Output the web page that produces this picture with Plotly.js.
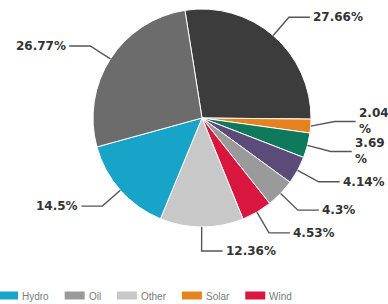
<!DOCTYPE html>
<html><head><meta charset="utf-8">
<script src="https://cdn.plot.ly/plotly-3.0.1.min.js"></script>
<style>html,body{margin:0;padding:0;background:#fff;}#chart{width:388px;height:304px;}</style>
</head><body><div id="chart"></div>
<script>
// ---- data ----
const categories = ['Coal','Solar','Biomass','Nuclear','Oil','Wind','Other','Hydro','Gas'];
const values = [27.66, 2.04, 3.69, 4.14, 4.3, 4.53, 12.36, 14.5, 26.77];
const valueLabels = ['27.66%','2.04%','3.69%','4.14%','4.3%','4.53%','12.36%','14.5%','26.77%'];
const colors = ['#3c3c3c','#e8821e','#0e7a5b','#5a4b78','#9a9a9a','#d8163e','#c8c8c8','#18a3c8','#6c6c6c'];
const legendNames = ['Hydro','Oil','Other','Solar','Wind'];

// ---- layout constants ----
const W = 388, H = 304, CX = 202, CY = 118, R = 109, ROT = -9;
const RADIAL = 24, HORIZ = 21, TGAP = 2;
const LABEL_FONT = 'DejaVu Sans', LABEL_SIZE = 12;
const LEG_FONT = 'Liberation Sans', LEG_SIZE = 10;

const cv = document.createElement('canvas').getContext('2d');
function textW(t, font) { cv.font = font; return cv.measureText(t).width; }
const px = x => x / W, py = y => 1 - y / H;

const total = values.reduce((a, b) => a + b, 0);
let ang = ROT;
const labs = values.map((v, i) => {
  const span = v / total * 360, mid = ang + span / 2; ang += span;
  const a = mid * Math.PI / 180, dx = Math.sin(a), dy = -Math.cos(a);
  const side = dx >= -0.01 ? 1 : -1;
  const o = {i, side,
    ex: CX + R * dx, ey: CY + R * dy,
    bx: CX + (R + RADIAL) * dx, by: CY + (R + RADIAL) * dy};
  o.hx = o.bx + side * HORIZ;
  o.tx = o.hx + side * TGAP;
  const w = textW(valueLabels[i], '700 ' + LABEL_SIZE + 'px "' + LABEL_FONT + '"');
  o.wrap = side > 0 ? (o.tx + w > W - 1) : (o.tx - w < 1);
  o.h = o.wrap ? 30 : 14;
  return o;
});
// simple vertical collision avoidance per side
[1, -1].forEach(s => {
  const arr = labs.filter(l => l.side === s).sort((a, b) => b.by - a.by);
  for (let k = 1; k < arr.length; k++) {
    const lower = arr[k - 1], upper = arr[k];
    const need = (lower.h + upper.h) / 2;
    if (lower.by - upper.by < need) upper.by = lower.by - need;
  }
});

const shapes = [], annotations = [];
labs.forEach(l => {
  shapes.push({type: 'path', xref: 'paper', yref: 'paper',
    path: `M${px(l.ex)},${py(l.ey)} L${px(l.bx)},${py(l.by)} L${px(l.hx)},${py(l.by)}`,
    line: {color: '#555555', width: 1.4}});
  const t = valueLabels[l.i];
  const txt = l.wrap ? t.replace('%', '<br>%') : t;
  annotations.push({xref: 'paper', yref: 'paper', x: px(l.tx), y: py(l.by),
    xanchor: l.side > 0 ? 'left' : 'right', yanchor: 'middle', align: 'left',
    showarrow: false, borderpad: 0, text: '<b>' + txt + '</b>',
    font: {family: LABEL_FONT, size: LABEL_SIZE, color: '#333333'}});
});

// custom legend row
let lx = -2; const ly = 295.5, SW = 20, SH = 8;
legendNames.forEach(n => {
  const c = colors[categories.indexOf(n)];
  shapes.push({type: 'rect', xref: 'paper', yref: 'paper',
    x0: px(lx), x1: px(lx + SW), y0: py(ly + SH / 2), y1: py(ly - SH / 2),
    fillcolor: c, line: {width: 0}});
  const tx = lx + SW + 3;
  annotations.push({xref: 'paper', yref: 'paper', x: px(tx), y: py(ly + 0.5),
    xanchor: 'left', yanchor: 'middle', showarrow: false, borderpad: 0, text: n,
    font: {family: LEG_FONT, size: LEG_SIZE, color: '#7a7a7a'}});
  lx = tx + textW(n, LEG_SIZE + 'px "' + LEG_FONT + '"') + 17;
});

const trace = {
  type: 'pie', labels: categories, values: values, sort: false,
  direction: 'clockwise', rotation: ROT, textinfo: 'none', hoverinfo: 'skip',
  showlegend: false,
  marker: {colors: colors, line: {color: '#ffffff', width: 1}},
  domain: {x: [px(CX - R), px(CX + R)], y: [py(CY + R), py(CY - R)]}
};

Plotly.newPlot('chart', [trace], {
  width: W, height: H, margin: {l: 0, r: 0, t: 0, b: 0},
  paper_bgcolor: '#ffffff', showlegend: false,
  shapes: shapes, annotations: annotations
}, {displayModeBar: false, staticPlot: true});
</script></body></html>
